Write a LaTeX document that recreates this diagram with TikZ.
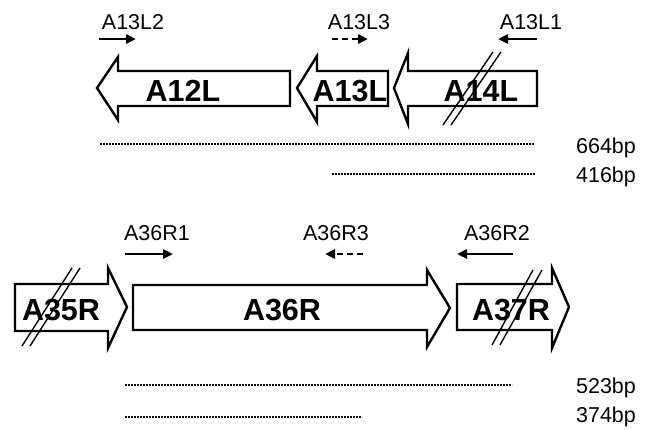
\documentclass[tikz,border=0pt]{standalone}
\usepackage{fontspec}
\setmainfont{Liberation Sans}
\usetikzlibrary{arrows.meta}
\tikzset{
  gene/.style={draw=black, line width=2.4pt, fill=white, line join=miter},
  genelabel/.style={font=\fontsize{30.5}{30}\selectfont\bfseries, anchor=base, inner sep=0pt},
  small/.style={font=\fontsize{21.5}{20}\selectfont, anchor=base, inner sep=0pt},
  primer/.style={line width=2.8pt, -{Triangle[length=10pt,width=9pt]}},
  primerdash/.style={primer, dash pattern=on 6pt off 4pt},
  product/.style={line width=2.2pt, dash pattern=on 2pt off 1pt},
  cut/.style={line width=1.4pt},
}
\begin{document}
\begin{tikzpicture}[x=1pt,y=-1pt]
\useasboundingbox (0,0) rectangle (648,429);

% ---- upper locus: genes on the left strand ----
\draw[gene] (97,88) -- (118,57) -- (118,71) -- (290,71) -- (290,106) -- (118,106) -- (118,120) -- cycle;
\draw[gene] (297,88) -- (317,56) -- (317,71) -- (388,71) -- (388,106) -- (317,106) -- (317,122) -- cycle;
\draw[gene] (394,88) -- (408,53) -- (408,71) -- (537,71) -- (537,106) -- (408,106) -- (408,124) -- cycle;
\node[genelabel] (a12l) at (183,101.5) {A12L};
\node[genelabel] (a13l) at (350,101.5) {A13L};
\node[genelabel] (a14l) at (481,101.5) {A14L};
\draw[cut] (493,52) -- (443,125);
\draw[cut] (501,52) -- (451,125);

% primers
\node[small] (p132) at (133,29) {A13L2};
\node[small] (p133) at (359,29) {A13L3};
\node[small] (p131) at (531,29) {A13L1};
\draw[primer] (99,39) -- (136,39);
\draw[primerdash] (332,39) -- (368,39);
\draw[primer] (537,39) -- (498,39);

% amplicons
\draw[product] (100,144) -- (535,144);
\draw[product] (332,174) -- (535,174);
\node[small] (b664) at (606,153) {664bp};
\node[small] (b416) at (606,182) {416bp};

% ---- lower locus: genes on the right strand ----
\draw[gene] (15,284) -- (108,284) -- (108,268) -- (127,307) -- (108,348) -- (108,331) -- (15,331) -- cycle;
\draw[gene] (133,285) -- (427,285) -- (427,270) -- (450,308) -- (427,347) -- (427,330) -- (133,330) -- cycle;
\draw[gene] (457,284) -- (552,284) -- (552,268) -- (569,307) -- (552,348) -- (552,330) -- (457,330) -- cycle;
\node[genelabel] (a35r) at (61,320) {A35R};
\node[genelabel] (a36r) at (282,320) {A36R};
\node[genelabel] (a37r) at (511,320) {A37R};
\draw[cut] (72,268) -- (22,346);
\draw[cut] (80,268) -- (30,346);
\draw[cut] (533,270) -- (492,345);
\draw[cut] (542,270) -- (500,345);

% primers
\node[small] (p361) at (157,240) {A36R1};
\node[small] (p363) at (336,240) {A36R3};
\node[small] (p362) at (497,240) {A36R2};
\draw[primer] (125,254) -- (173,254);
\draw[primerdash] (363,254) -- (325,254);
\draw[primer] (513,254) -- (457,254);

% amplicons
\draw[product] (125,385) -- (512,385);
\draw[product] (125,417) -- (362,417);
\node[small] (b523) at (606,393) {523bp};
\node[small] (b374) at (606,422) {374bp};
\end{tikzpicture}
\end{document}
